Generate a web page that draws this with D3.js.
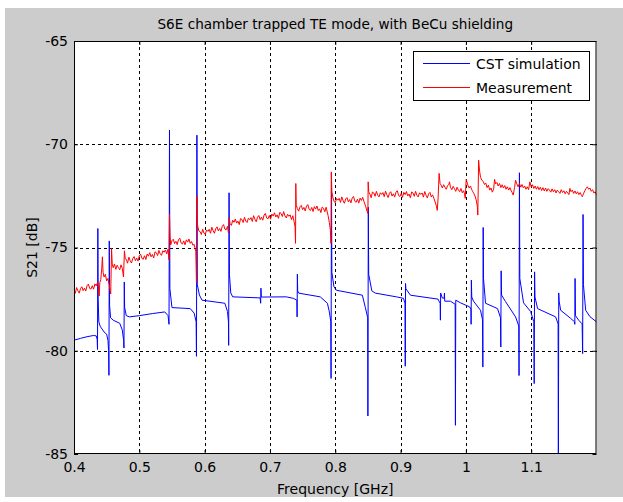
<!DOCTYPE html>
<html><head><meta charset="utf-8">
<script src="https://cdn.jsdelivr.net/npm/d3@7"></script>
<style>
body{margin:0;background:#fff}
svg{display:block}
text{font-family:"DejaVu Sans",sans-serif;fill:#000}
</style>
</head><body>
<svg id="chart" width="623" height="502"></svg>
<script>
const chartTitle = "S6E chamber trapped TE mode, with BeCu shielding";
const xLabel = "Frequency [GHz]";
const yLabel = "S21 [dB]";
const xDomain = [0.4, 1.2];
const yDomain = [-85, -65];
const xTickValues = [0.4, 0.5, 0.6, 0.7, 0.8, 0.9, 1.0, 1.1];
const xTickLabels = ["0.4", "0.5", "0.6", "0.7", "0.8", "0.9", "1", "1.1"];
const yTickValues = [-85, -80, -75, -70, -65];
const yTickLabels = ["-85", "-80", "-75", "-70", "-65"];
const seriesNames = ["CST simulation", "Measurement"];
const seriesColors = ["#0000ff", "#ff0000"];

// CST simulation: [frequency GHz, S21 dB]
const simulation = [
[0.4000,-79.49],[0.4100,-79.40],[0.4200,-79.32],[0.4300,-79.26],[0.4340,-79.28],[0.4355,-79.45],
[0.4360,-79.94],[0.4365,-74.08],[0.4370,-77.50],[0.4380,-78.60],[0.4400,-78.81],[0.4460,-79.09],
[0.4500,-79.20],[0.4520,-79.50],[0.4530,-80.00],[0.4535,-81.19],[0.4540,-74.68],[0.4545,-77.80],
[0.4560,-78.40],[0.4600,-78.52],[0.4700,-78.67],[0.4740,-79.00],[0.4760,-79.50],[0.4765,-79.87],
[0.4770,-76.67],[0.4775,-77.90],[0.4800,-78.30],[0.4850,-78.36],[0.5000,-78.30],[0.5200,-78.20],
[0.5390,-78.12],[0.5440,-78.30],[0.5455,-78.72],[0.5462,-69.31],[0.5468,-77.00],[0.5500,-77.91],
[0.5780,-77.96],[0.5840,-78.18],[0.5870,-78.60],[0.5875,-80.27],[0.5882,-69.56],[0.5888,-76.80],
[0.5920,-77.30],[0.5960,-77.55],[0.6310,-77.70],[0.6350,-78.10],[0.6365,-78.60],[0.6368,-79.74],
[0.6374,-72.35],[0.6380,-76.30],[0.6400,-77.20],[0.6430,-77.39],[0.6850,-77.44],[0.6858,-77.70],
[0.6862,-76.97],[0.6868,-77.40],[0.7250,-77.39],[0.7357,-77.46],[0.7412,-77.55],[0.7416,-78.36],
[0.7420,-76.29],[0.7425,-77.10],[0.7440,-77.21],[0.7770,-77.39],[0.7880,-77.70],[0.7910,-78.12],
[0.7932,-78.60],[0.7936,-81.34],[0.7942,-71.40],[0.7948,-76.20],[0.7980,-76.90],[0.8017,-77.07],
[0.8415,-77.31],[0.8461,-77.91],[0.8497,-78.40],[0.8500,-83.16],[0.8506,-73.05],[0.8512,-76.30],
[0.8560,-77.10],[0.8615,-77.21],[0.8936,-77.39],[0.9044,-77.46],[0.9068,-77.70],[0.9072,-80.75],
[0.9076,-76.74],[0.9082,-77.00],[0.9151,-77.31],[0.9575,-77.50],[0.9580,-77.55],[0.9606,-77.70],
[0.9610,-78.52],[0.9614,-77.21],[0.9640,-77.45],[0.9668,-77.45],[0.9672,-77.21],[0.9676,-77.60],
[0.9764,-77.60],[0.9836,-77.75],[0.9840,-83.61],[0.9845,-77.55],[0.9918,-77.68],[1.0060,-77.88],
[1.0078,-78.00],[1.0080,-78.72],[1.0084,-76.58],[1.0090,-77.40],[1.0117,-77.60],[1.0224,-78.04],
[1.0255,-78.50],[1.0260,-80.79],[1.0265,-74.03],[1.0270,-76.50],[1.0301,-77.70],[1.0485,-77.96],
[1.0530,-78.40],[1.0535,-79.82],[1.0540,-76.13],[1.0546,-77.30],[1.0607,-77.62],[1.0761,-78.36],
[1.0810,-78.80],[1.0814,-81.20],[1.0820,-71.38],[1.0826,-76.50],[1.0883,-77.68],[1.0991,-78.10],
[1.1040,-78.60],[1.1046,-81.59],[1.1052,-76.18],[1.1058,-77.40],[1.1098,-77.96],[1.1374,-78.36],
[1.1412,-78.70],[1.1416,-86.00],[1.1422,-77.20],[1.1428,-77.60],[1.1451,-78.04],[1.1604,-78.43],
[1.1664,-78.60],[1.1668,-78.72],[1.1672,-76.50],[1.1678,-78.30],[1.1727,-78.52],[1.1780,-78.70],
[1.1788,-80.14],[1.1794,-73.40],[1.1800,-76.80],[1.1834,-78.04],[1.1900,-78.35],[1.2003,-78.61]
];

// Measurement: [frequency GHz, S21 dB]
const measurement = [
[0.400,-77.04],[0.402,-77.22],[0.404,-76.94],[0.406,-77.10],[0.408,-77.21],[0.410,-76.99],[0.412,-76.90],
[0.414,-77.09],[0.416,-76.97],[0.418,-77.11],[0.420,-76.85],[0.422,-76.77],[0.424,-76.98],[0.426,-77.01],
[0.428,-76.85],[0.430,-77.02],[0.432,-76.76],[0.434,-76.86],[0.436,-76.69],
[0.4375,-76.90],[0.4385,-77.35],[0.4395,-76.70],[0.4410,-76.55],[0.4425,-76.00],[0.4435,-75.45],[0.4445,-76.20],
[0.446,-76.43],[0.448,-76.30],[0.450,-76.62],[0.452,-76.50],[0.454,-76.82],
[0.4550,-77.05],[0.4562,-77.25],[0.4575,-75.05],[0.4585,-75.80],
[0.460,-75.98],[0.462,-75.80],[0.464,-76.06],[0.466,-75.86],[0.468,-75.97],[0.470,-76.08],[0.472,-75.84],[0.474,-76.02],
[0.4758,-76.43],[0.4772,-75.16],[0.4785,-75.55],
[0.480,-75.57],[0.482,-75.76],[0.484,-75.47],[0.486,-75.64],[0.488,-75.75],[0.490,-75.53],[0.492,-75.44],
[0.494,-75.64],[0.496,-75.51],[0.498,-75.66],[0.500,-75.40],[0.502,-75.32],[0.504,-75.53],[0.506,-75.57],
[0.508,-75.40],[0.510,-75.58],[0.512,-75.32],[0.514,-75.42],[0.516,-75.25],[0.518,-75.45],[0.520,-75.34],
[0.522,-75.51],[0.524,-75.21],[0.526,-75.25],[0.528,-75.39],[0.530,-75.14],[0.532,-75.31],[0.534,-75.38],
[0.536,-75.16],[0.538,-75.23],[0.540,-75.12],[0.542,-75.31],[0.544,-75.08],
[0.5455,-75.60],[0.5462,-73.40],[0.5470,-74.40],
[0.548,-74.88],[0.550,-74.67],[0.552,-74.60],[0.554,-74.81],[0.556,-74.70],[0.558,-74.86],[0.560,-74.62],
[0.562,-74.55],[0.564,-74.78],[0.566,-74.83],[0.568,-74.68],[0.570,-74.87],[0.572,-74.63],[0.574,-74.74],
[0.576,-74.59],[0.578,-74.80],[0.580,-74.71],[0.582,-74.89],[0.584,-74.85],
[0.5865,-75.20],[0.5875,-76.70],[0.5882,-72.50],[0.5890,-73.90],
[0.591,-74.19],[0.593,-74.23],[0.595,-74.37],[0.597,-74.12],[0.599,-74.30],[0.601,-74.37],[0.603,-74.15],
[0.605,-74.22],[0.607,-74.12],[0.609,-74.31],[0.611,-74.02],[0.613,-74.19],[0.615,-74.31],[0.617,-74.09],
[0.619,-74.00],[0.621,-74.20],[0.623,-74.08],[0.625,-74.22],[0.627,-73.97],[0.629,-73.89],[0.631,-74.11],
[0.633,-74.14],[0.635,-73.98],
[0.6365,-74.30],[0.6375,-73.55],[0.6390,-73.85],
[0.641,-73.93],[0.643,-73.68],[0.645,-73.78],[0.647,-73.62],[0.649,-73.82],[0.651,-73.72],[0.653,-73.89],
[0.655,-73.60],[0.657,-73.64],[0.659,-73.79],[0.661,-73.54],[0.663,-73.72],[0.665,-73.79],[0.667,-73.58],
[0.669,-73.65],[0.671,-73.55],[0.673,-73.74],[0.675,-73.46],[0.677,-73.63],[0.679,-73.75],[0.681,-73.53],
[0.683,-73.45],[0.685,-73.65],[0.687,-73.53],[0.689,-73.68],[0.691,-73.43],[0.693,-73.35],[0.695,-73.57],
[0.697,-73.61],[0.699,-73.45],[0.701,-73.63],[0.703,-73.38],[0.705,-73.48],[0.707,-73.32],[0.709,-73.52],
[0.711,-73.42],[0.713,-73.59],[0.715,-73.30],[0.717,-73.35],[0.719,-73.50],[0.721,-73.26],[0.723,-73.47],
[0.725,-73.57],[0.727,-73.39],[0.729,-73.49],[0.731,-73.42],[0.733,-73.65],[0.735,-73.46],
[0.7370,-73.75],[0.7385,-74.00],[0.7392,-74.80],[0.7396,-71.90],[0.7402,-72.95],
[0.742,-73.11],[0.744,-73.24],[0.746,-73.03],[0.748,-72.96],[0.750,-73.17],[0.752,-73.06],[0.754,-73.23],
[0.756,-72.99],[0.758,-72.92],[0.760,-73.15],[0.762,-73.21],[0.764,-73.06],[0.766,-73.26],[0.768,-73.02],
[0.770,-73.14],[0.772,-72.99],[0.774,-73.21],[0.776,-73.13],[0.778,-73.31],[0.780,-73.04],[0.782,-73.10],
[0.784,-73.27],[0.786,-73.05],
[0.7890,-73.45],[0.7910,-73.80],[0.7925,-74.16],[0.7935,-74.80],[0.7940,-71.34],[0.7948,-72.30],[0.7965,-72.60],
[0.798,-72.75],[0.800,-72.83],[0.802,-72.63],[0.804,-72.71],[0.806,-72.62],[0.808,-72.82],[0.810,-72.55],
[0.812,-72.73],[0.814,-72.86],[0.816,-72.65],[0.818,-72.58],[0.820,-72.79],[0.822,-72.68],[0.824,-72.84],
[0.826,-72.60],[0.828,-72.53],[0.830,-72.76],[0.832,-72.81],[0.834,-72.66],[0.836,-72.85],[0.838,-72.61],
[0.840,-72.72],[0.842,-72.57],[0.844,-72.78],
[0.8465,-73.00],[0.8490,-73.27],[0.8500,-73.35],[0.8504,-71.82],[0.8512,-72.30],
[0.853,-72.41],[0.855,-72.59],[0.857,-72.31],[0.859,-72.36],[0.861,-72.52],[0.863,-72.28],[0.865,-72.47],
[0.867,-72.55],[0.869,-72.35],[0.871,-72.43],[0.873,-72.34],[0.875,-72.54],[0.877,-72.27],[0.879,-72.45],
[0.881,-72.58],[0.883,-72.37],[0.885,-72.30],[0.887,-72.51],[0.889,-72.40],[0.891,-72.56],[0.893,-72.32],
[0.895,-72.25],[0.897,-72.48],[0.899,-72.53],[0.901,-72.38],[0.903,-72.57],[0.905,-72.33],[0.907,-72.44],
[0.909,-72.29],[0.911,-72.50],[0.913,-72.41],[0.915,-72.59],[0.917,-72.31],[0.919,-72.36],[0.921,-72.52],
[0.923,-72.28],[0.925,-72.47],[0.927,-72.55],[0.929,-72.35],[0.931,-72.43],[0.933,-72.36],[0.935,-72.56],
[0.937,-72.29],[0.939,-72.47],[0.941,-72.60],[0.943,-72.40],[0.945,-72.33],[0.947,-72.55],[0.949,-72.45],
[0.951,-72.61],
[0.9545,-72.95],[0.9562,-73.20],[0.9575,-72.60],[0.9590,-71.41],[0.9605,-71.90],[0.9622,-71.98],
[0.9640,-72.12],[0.9660,-71.96],[0.9680,-72.08],[0.9700,-72.18],[0.9720,-72.00],[0.9740,-71.95],[0.9749,-71.82],
[0.9765,-72.10],[0.9785,-72.20],[0.9805,-72.04],[0.9825,-72.15],[0.9845,-72.28],[0.9865,-72.08],[0.9885,-72.22],
[0.9905,-72.30],[0.9925,-72.14],[0.9945,-72.35],[0.9965,-72.25],[0.9979,-72.40],
[0.9990,-72.62],[1.0005,-71.70],[1.0030,-71.98],[1.0050,-72.12],[1.0070,-72.02],[1.0090,-72.20],[1.0106,-72.30],
[1.0125,-72.40],[1.0145,-72.55],[1.0158,-72.70],[1.0175,-73.00],[1.0183,-73.43],[1.0195,-70.77],[1.0210,-71.30],
[1.0225,-71.60],[1.0244,-71.74],
[1.0265,-71.80],[1.0285,-71.95],[1.0305,-71.88],[1.0325,-72.10],[1.0345,-71.98],[1.0365,-72.22],[1.0385,-72.12],
[1.0405,-72.32],[1.0425,-72.18],[1.0439,-71.70],[1.0455,-71.92],[1.0475,-71.85],[1.0495,-72.02],[1.0515,-71.90],
[1.0535,-72.10],[1.0555,-71.96],[1.0575,-72.12],[1.0595,-72.00],[1.0615,-72.18],[1.0635,-72.06],[1.0655,-72.22],
[1.0675,-72.10],[1.0695,-72.26],[1.0710,-72.35],[1.0725,-72.46],[1.0745,-72.10],[1.0761,-71.74],[1.0780,-71.92],
[1.0800,-72.06],[1.0820,-71.90],[1.0840,-72.08],[1.0860,-71.95],[1.0880,-72.12],[1.0900,-72.02],[1.0920,-72.18],
[1.0940,-72.06],[1.0960,-72.20],[1.0980,-71.82],[1.1000,-72.06],[1.1020,-71.96],[1.1040,-72.14],[1.1060,-72.02],
[1.1080,-72.18],[1.1100,-72.05],[1.1120,-72.20],[1.1140,-72.08],[1.1160,-72.24],[1.1180,-72.10],[1.1200,-72.26],
[1.1220,-72.12],[1.1240,-72.28],[1.1260,-72.15],[1.1280,-72.22],[1.1300,-72.32],[1.1320,-72.16],[1.1340,-72.30],
[1.1360,-72.20],[1.1380,-72.36],[1.1400,-72.22],[1.1420,-72.30],[1.1440,-72.38],[1.1460,-72.20],[1.1480,-72.34],
[1.1500,-72.25],[1.1520,-72.40],[1.1540,-72.28],[1.1560,-72.36],[1.1578,-72.44],[1.1592,-72.14],[1.1610,-72.30],
[1.1630,-72.22],[1.1650,-72.38],[1.1670,-72.26],[1.1690,-72.40],[1.1710,-72.30],[1.1730,-72.44],[1.1750,-72.34],
[1.1770,-72.48],[1.1783,-72.54],[1.1800,-72.40],[1.1820,-72.26],[1.1840,-72.14],[1.1860,-72.06],[1.1880,-72.18],
[1.1900,-72.12],[1.1920,-72.28],[1.1940,-72.20],[1.1960,-72.36],[1.1980,-72.30],[1.2000,-72.45],[1.2020,-72.46]
];

const W = 623, H = 502;
const plot = {left: 74, top: 41, right: 596.5, bottom: 454};
const svg = d3.select("#chart");

// figure background
svg.append("rect").attr("x", 5).attr("y", 8).attr("width", W - 5).attr("height", 489).attr("fill", "#cccccc");

const x = d3.scaleLinear().domain(xDomain).range([plot.left, plot.right]);
const y = d3.scaleLinear().domain(yDomain).range([plot.bottom, plot.top]);
const pw = plot.right - plot.left, ph = plot.bottom - plot.top;

// axes area
svg.append("rect").attr("x", plot.left).attr("y", plot.top).attr("width", pw).attr("height", ph).attr("fill", "#fff");

// grid
const grid = svg.append("g").attr("stroke", "#000").attr("stroke-width", 1).attr("stroke-dasharray", "3,3").attr("shape-rendering", "crispEdges");
grid.selectAll("line.gx").data(xTickValues.slice(1)).join("line")
  .attr("class", "gx")
  .attr("x1", d => Math.round(x(d)) + 0.5).attr("x2", d => Math.round(x(d)) + 0.5)
  .attr("y1", plot.top).attr("y2", plot.bottom);
grid.selectAll("line.gy").data(yTickValues.slice(1, -1)).join("line")
  .attr("class", "gy")
  .attr("y1", d => Math.round(y(d)) + 0.5).attr("y2", d => Math.round(y(d)) + 0.5)
  .attr("x1", plot.left).attr("x2", plot.right);

// clip
svg.append("clipPath").attr("id", "clip").append("rect")
  .attr("x", plot.left).attr("y", plot.top).attr("width", pw).attr("height", ph);

const line = d3.line().x(d => x(d[0])).y(d => y(d[1]));
const lines = svg.append("g").attr("clip-path", "url(#clip)");
[simulation, measurement].forEach((s, i) => {
  lines.append("path").datum(s).attr("d", line).attr("fill", "none")
    .attr("stroke", seriesColors[i]).attr("stroke-width", 1).attr("stroke-linejoin", "round");
});

// axes
const fmtX = d => xTickLabels[xTickValues.indexOf(d)];
const fmtY = d => yTickLabels[yTickValues.indexOf(d)];
const ax = svg.append("g").attr("transform", `translate(0,${plot.bottom})`)
  .call(d3.axisBottom(x).tickValues(xTickValues).tickFormat(fmtX).tickSizeInner(-4).tickSizeOuter(0).tickPadding(8));
const axTop = svg.append("g").attr("transform", `translate(0,${plot.top})`)
  .call(d3.axisTop(x).tickValues(xTickValues).tickFormat("").tickSizeInner(-4).tickSizeOuter(0));
const ay = svg.append("g").attr("transform", `translate(${plot.left},0)`)
  .call(d3.axisLeft(y).tickValues(yTickValues).tickFormat(fmtY).tickSizeInner(-4).tickSizeOuter(0).tickPadding(6));
const ayR = svg.append("g").attr("transform", `translate(${plot.right},0)`)
  .call(d3.axisRight(y).tickValues(yTickValues).tickFormat("").tickSizeInner(-4).tickSizeOuter(0));
[ax, axTop, ay, ayR].forEach(g => {
  g.select(".domain").remove();
  g.selectAll("line").attr("stroke", "#000");
  g.selectAll("text").attr("font-family", "DejaVu Sans, sans-serif").attr("font-size", 14).attr("fill", "#000");
});

// frame
svg.append("rect").attr("x", plot.left + 0.5).attr("y", plot.top + 0.5).attr("width", pw - 1).attr("height", ph - 1)
  .attr("fill", "none").attr("stroke", "#000").attr("stroke-width", 1);

// title & labels
svg.append("text").attr("x", (plot.left + plot.right) / 2).attr("y", 29).attr("text-anchor", "middle")
  .attr("font-size", 13.6).text(chartTitle);
svg.append("text").attr("x", (plot.left + plot.right) / 2).attr("y", 494).attr("text-anchor", "middle")
  .attr("font-size", 14).text(xLabel);
svg.append("text").attr("transform", `translate(37,${(plot.top + plot.bottom) / 2}) rotate(-90)`)
  .attr("text-anchor", "middle").attr("font-size", 14).text(yLabel);

// legend
const lg = svg.append("g");
lg.append("rect").attr("x", 413.5).attr("y", 51.5).attr("width", 176).attr("height", 49)
  .attr("fill", "#fff").attr("stroke", "#000");
seriesNames.forEach((n, i) => {
  const ly = 63.5 + i * 24;
  lg.append("line").attr("x1", 423).attr("x2", 470).attr("y1", ly).attr("y2", ly)
    .attr("stroke", seriesColors[i]).attr("stroke-width", 1);
  lg.append("text").attr("x", 476).attr("y", ly + 5).attr("font-size", 14).text(n);
});
</script>
</body></html>
